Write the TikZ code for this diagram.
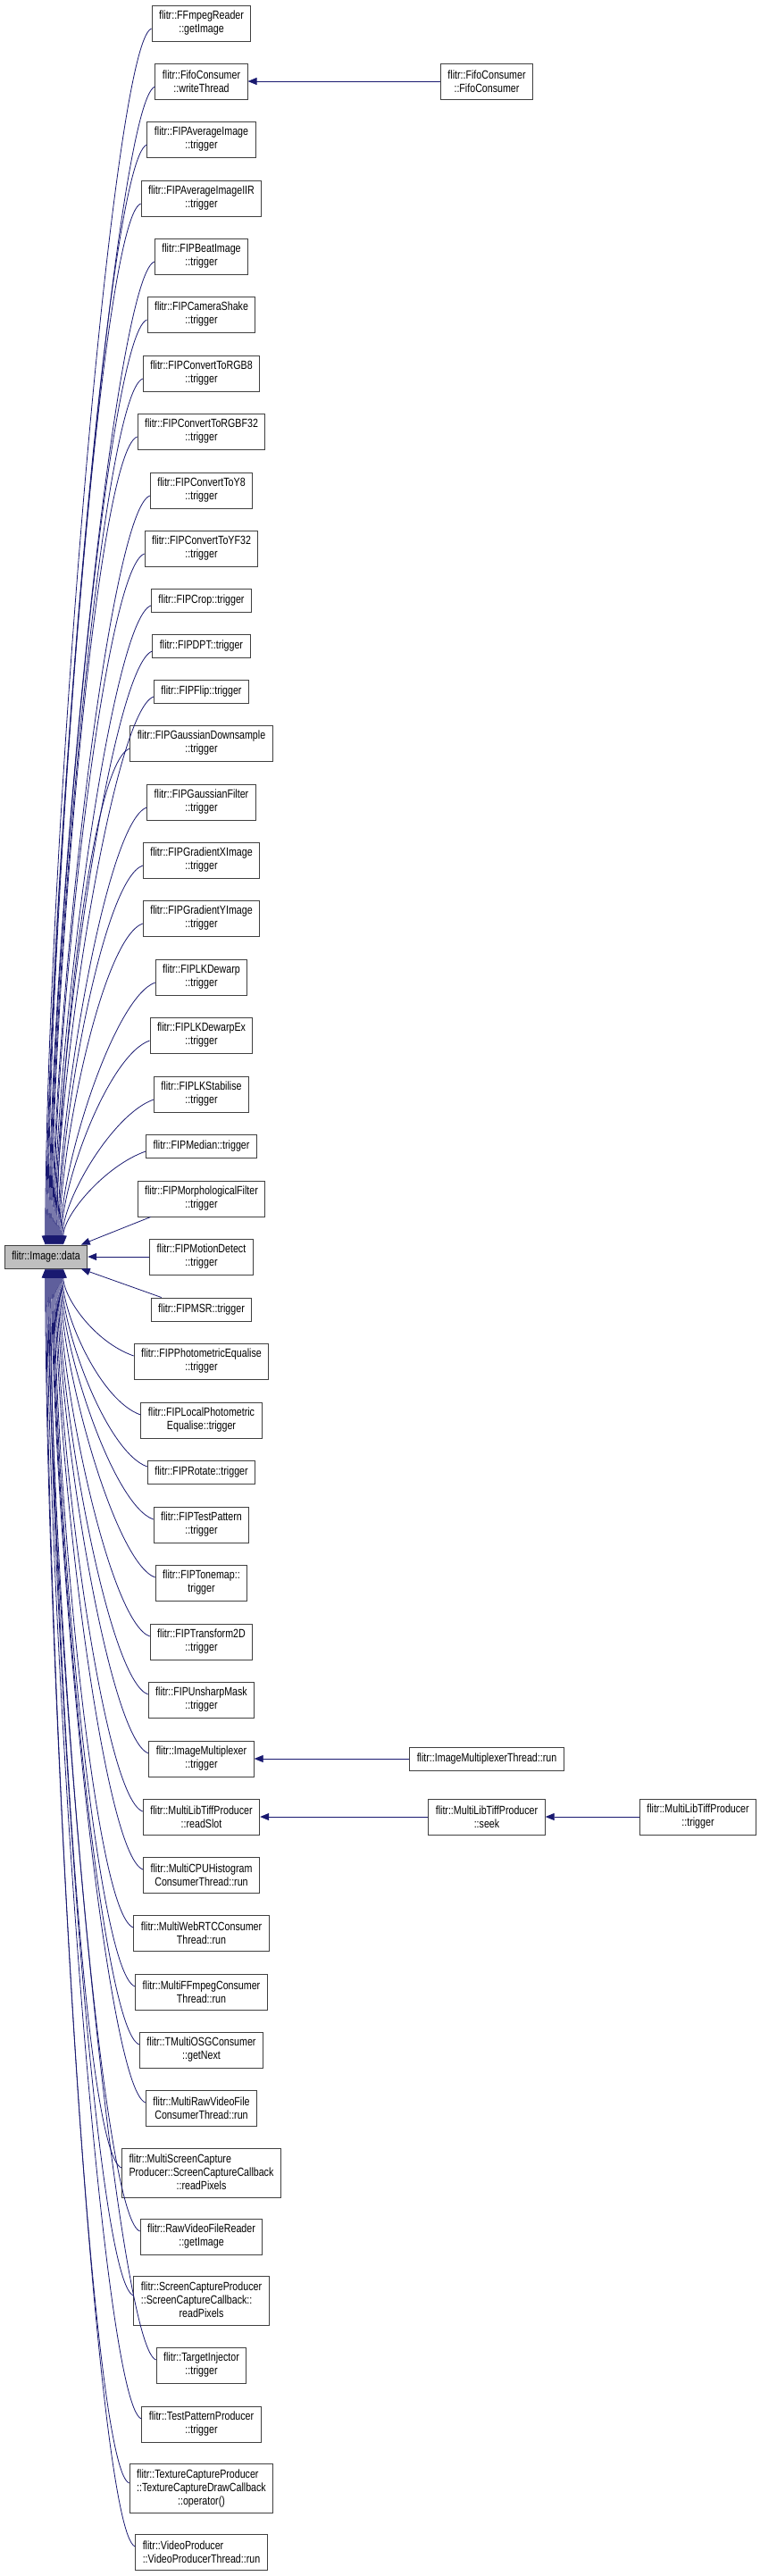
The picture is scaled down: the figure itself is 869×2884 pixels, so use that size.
\documentclass[tikz,border=0pt]{standalone}
\usepackage{fontspec}
\setmainfont{Liberation Sans}[FakeStretch=0.8]
\usepackage{tikz}
\usetikzlibrary{arrows.meta,positioning,calc}
\definecolor{edgeblue}{HTML}{191970}
\definecolor{boxline}{HTML}{404040}
\definecolor{datafill}{HTML}{BFBFBF}

\begin{document}
\begin{tikzpicture}[x=0.75pt, y=-0.75pt,
    >={Triangle[length=7.5pt, width=6pt]},
    fnbox/.style={draw=boxline, line width=0.75pt, fill=white,
      font=\fontsize{10}{11.25}\selectfont, inner xsep=6pt, inner ysep=1pt},
    fn/.style={fnbox, align=center, minimum height=30pt},
    fnone/.style={fnbox, minimum height=19.5pt},
    fnthree/.style={fnbox, minimum height=41pt},
    datanode/.style={fnbox, fill=datafill, minimum height=19.5pt},
    calledge/.style={->, draw=edgeblue, line width=0.6pt}]
  \useasboundingbox (0,0) rectangle (869,2884);

  \node[datanode] (data) at (51.5,1407) {flitr::Image::data};

  \node[fn] (ffmpeg) at (225.5,26) {flitr::FFmpegReader\\::getImage};
  \node[fn] (fifowrite) at (225.5,91) {flitr::FifoConsumer\\::writeThread};
  \node[fn] (avgimg) at (225.5,156) {flitr::FIPAverageImage\\::trigger};
  \node[fn] (avgiir) at (225.5,222) {flitr::FIPAverageImageIIR\\::trigger};
  \node[fn] (beat) at (225.5,287) {flitr::FIPBeatImage\\::trigger};
  \node[fn] (shake) at (225.5,352) {flitr::FIPCameraShake\\::trigger};
  \node[fn] (rgb8) at (225.5,418) {flitr::FIPConvertToRGB8\\::trigger};
  \node[fn] (rgbf32) at (225.5,483) {flitr::FIPConvertToRGBF32\\::trigger};
  \node[fn] (y8) at (225.5,549) {flitr::FIPConvertToY8\\::trigger};
  \node[fn] (yf32) at (225.5,614) {flitr::FIPConvertToYF32\\::trigger};
  \node[fnone] (crop) at (225.5,672) {flitr::FIPCrop::trigger};
  \node[fnone] (dpt) at (225.5,723) {flitr::FIPDPT::trigger};
  \node[fnone] (flip) at (225.5,774) {flitr::FIPFlip::trigger};
  \node[fn] (gdown) at (225.5,832) {flitr::FIPGaussianDownsample\\::trigger};
  \node[fn] (gfilt) at (225.5,898) {flitr::FIPGaussianFilter\\::trigger};
  \node[fn] (gradx) at (225.5,963) {flitr::FIPGradientXImage\\::trigger};
  \node[fn] (grady) at (225.5,1028) {flitr::FIPGradientYImage\\::trigger};
  \node[fn] (lkdw) at (225.5,1094) {flitr::FIPLKDewarp\\::trigger};
  \node[fn] (lkdwex) at (225.5,1159) {flitr::FIPLKDewarpEx\\::trigger};
  \node[fn] (lkstab) at (225.5,1225) {flitr::FIPLKStabilise\\::trigger};
  \node[fnone] (median) at (225.5,1283) {flitr::FIPMedian::trigger};
  \node[fn] (morph) at (225.5,1342) {flitr::FIPMorphologicalFilter\\::trigger};
  \node[fn] (motion) at (225.5,1407) {flitr::FIPMotionDetect\\::trigger};
  \node[fnone] (msr) at (225.5,1466) {flitr::FIPMSR::trigger};
  \node[fn] (photeq) at (225.5,1524) {flitr::FIPPhotometricEqualise\\::trigger};
  \node[fn] (locphot) at (225.5,1590) {flitr::FIPLocalPhotometric\\Equalise::trigger};
  \node[fnone] (rotate) at (225.5,1648) {flitr::FIPRotate::trigger};
  \node[fn] (testpat) at (225.5,1707) {flitr::FIPTestPattern\\::trigger};
  \node[fn] (tonemap) at (225.5,1772) {flitr::FIPTonemap::\\trigger};
  \node[fn] (xform) at (225.5,1838) {flitr::FIPTransform2D\\::trigger};
  \node[fn] (unsharp) at (225.5,1903) {flitr::FIPUnsharpMask\\::trigger};
  \node[fn] (imux) at (225.5,1969) {flitr::ImageMultiplexer\\::trigger};
  \node[fn] (readslot) at (225.5,2034) {flitr::MultiLibTiffProducer\\::readSlot};
  \node[fn] (cpuhist) at (225.5,2099) {flitr::MultiCPUHistogram\\ConsumerThread::run};
  \node[fn] (webrtc) at (225.5,2164) {flitr::MultiWebRTCConsumer\\Thread::run};
  \node[fn] (mffmpeg) at (225.5,2230) {flitr::MultiFFmpegConsumer\\Thread::run};
  \node[fn] (osg) at (225.5,2295) {flitr::TMultiOSGConsumer\\::getNext};
  \node[fn] (mraw) at (225.5,2360) {flitr::MultiRawVideoFile\\ConsumerThread::run};
  \node[fnthree] (mscreen) at (225.5,2433) {\begin{tabular}{@{}l@{}}flitr::MultiScreenCapture\\Producer::ScreenCaptureCallback\\\multicolumn{1}{@{}c@{}}{::readPixels}\end{tabular}};
  \node[fn] (rawrd) at (225.5,2504) {flitr::RawVideoFileReader\\::getImage};
  \node[fnthree] (screen) at (225.5,2576) {\begin{tabular}{@{}l@{}}flitr::ScreenCaptureProducer\\::ScreenCaptureCallback::\\\multicolumn{1}{@{}c@{}}{readPixels}\end{tabular}};
  \node[fn] (target) at (225.5,2648) {flitr::TargetInjector\\::trigger};
  \node[fn] (testprod) at (225.5,2714) {flitr::TestPatternProducer\\::trigger};
  \node[fnthree] (texture) at (225.5,2786) {\begin{tabular}{@{}l@{}}flitr::TextureCaptureProducer\\::TextureCaptureDrawCallback\\\multicolumn{1}{@{}c@{}}{::operator()}\end{tabular}};
  \node[fn, align=left] (video) at (225.5,2857) {flitr::VideoProducer\\::VideoProducerThread::run};

  \node[fn] (fifoctor) at (545,91) {flitr::FifoConsumer\\::FifoConsumer};
  \node[fnone] (imuxrun) at (545,1969) {flitr::ImageMultiplexerThread::run};
  \node[fn] (seek) at (545,2034) {flitr::MultiLibTiffProducer\\::seek};
  \node[fn] (tifftrig) at (781.5,2034) {flitr::MultiLibTiffProducer\\::trigger};

  % callers above
  \foreach \nm [count=\k from 0] in {ffmpeg,fifowrite,avgimg,avgiir,beat,shake,rgb8,rgbf32,
      y8,yf32,crop,dpt,flip,gdown,gfilt,gradx,grady,lkdw,lkdwex,lkstab,median}
    \draw[calledge] let \p1=(\nm.west), \p2=(data.north west) in
      (\x1,{\y1-4.5pt}) .. controls ({\x1-34pt},{\y1-16.5pt})
        and ({\x2+34.5pt+\k*0.75pt},{\y2+0.3*(\y1-\y2)}) .. ({\x2+34.5pt+\k*0.75pt},\y2);
  % callers below
  \foreach \nm [count=\k from 0] in {photeq,locphot,rotate,testpat,tonemap,xform,unsharp,imux,
      readslot,cpuhist,webrtc,mffmpeg,osg,mraw,mscreen,rawrd,screen,target,testprod,texture,video}
    \draw[calledge] let \p1=(\nm.west), \p2=(data.south west) in
      (\x1,{\y1+4.5pt}) .. controls ({\x1-34pt},{\y1+16.5pt})
        and ({\x2+49.5pt-\k*0.75pt},{\y2+0.3*(\y1-\y2)}) .. ({\x2+49.5pt-\k*0.75pt},\y2);

  \draw[calledge] ($(morph.south west)+(15,0)$) -- ($(data.north west)+(86,0)$);
  \draw[calledge] (motion) -- (data);
  \draw[calledge] ($(msr.north west)+(12,0)$) -- ($(data.south west)+(86,0)$);

  \draw[calledge] (fifoctor) -- (fifowrite);
  \draw[calledge] (imuxrun) -- (imux);
  \draw[calledge] (seek) -- (readslot);
  \draw[calledge] (tifftrig) -- (seek);
\end{tikzpicture}
\end{document}
